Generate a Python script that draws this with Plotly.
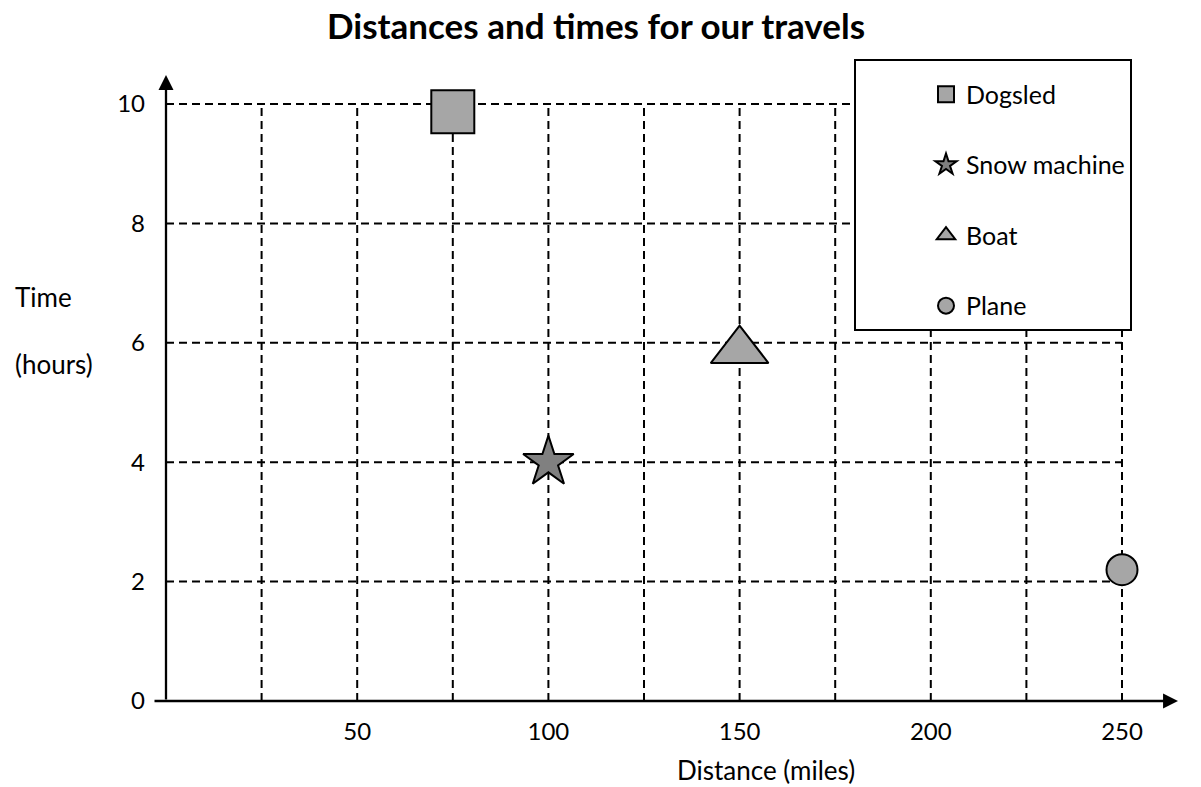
import plotly.graph_objects as go

# ---- data ----
vehicles = ["Dogsled", "Snow machine", "Boat", "Plane"]
distance_miles = [75, 100, 150, 250]
time_hours = [9.87, 4.0, 5.87, 2.2]
symbols = ["square", "star", "triangle-up", "circle"]
fills = ["#a6a6a6", "#808080", "#a6a6a6", "#a6a6a6"]
sizes = [43, 38, 50, 31]

x_ticks = [50, 100, 150, 200, 250]
y_ticks = [0, 2, 4, 6, 8, 10]
x_grid = [25, 50, 75, 100, 125, 150, 175, 200, 225, 250]
y_grid = [2, 4, 6, 8, 10]

FONT = "Lato"
W, H = 1201, 787
ML, MR, MT, MB = 166, 23, 75, 86
PW, PH = W - ML - MR, H - MT - MB


def px2paper_x(px):
    return (px - ML) / PW


def px2paper_y(py):
    return (H - MB - py) / PH


fig = go.Figure()

for name, x, y, sym, col, sz in zip(vehicles, distance_miles, time_hours, symbols, fills, sizes):
    fig.add_trace(go.Scatter(
        x=[x], y=[y], mode="markers", name=name, legendgroup=name,
        marker=dict(symbol=sym, size=sz, color=col, line=dict(color="black", width=2)),
        cliponaxis=False,
    ))

grid_line = dict(color="black", width=2, dash="8px,5px")
for gx in x_grid:
    fig.add_shape(type="line", xref="x", yref="y", x0=gx, x1=gx,
                  y0=0, y1=max(y_grid), line=grid_line, layer="below")
for gy in y_grid:
    fig.add_shape(type="line", xref="x", yref="y", x0=0, x1=max(x_grid),
                  y0=gy, y1=gy, line=grid_line, layer="below")

# axis arrows
fig.add_annotation(xref="paper", yref="paper", x=1, y=0, ax=-(PW + 13), ay=0,
                   text="", showarrow=True, arrowhead=2, arrowsize=1.3,
                   arrowwidth=2.3, arrowcolor="black")
fig.add_annotation(xref="paper", yref="paper", x=0, y=1, ax=0, ay=PH,
                   text="", showarrow=True, arrowhead=2, arrowsize=1.3,
                   arrowwidth=2.3, arrowcolor="black")

# axis titles
fig.add_annotation(xref="paper", yref="paper", x=px2paper_x(13), y=px2paper_y(297),
                   xanchor="left", yanchor="middle", text="Time", showarrow=False,
                   font=dict(family=FONT, size=26, color="black"))
fig.add_annotation(xref="paper", yref="paper", x=px2paper_x(13), y=px2paper_y(364),
                   xanchor="left", yanchor="middle", text="(hours)", showarrow=False,
                   font=dict(family=FONT, size=26, color="black"))
fig.add_annotation(xref="paper", yref="paper", x=px2paper_x(766), y=px2paper_y(770),
                   xanchor="center", yanchor="middle", text="Distance (miles)", showarrow=False,
                   font=dict(family=FONT, size=26, color="black"))

fig.update_layout(
    width=W, height=H,
    margin=dict(l=ML, r=MR, t=MT, b=MB),
    paper_bgcolor="white", plot_bgcolor="white",
    title=dict(text="Distances and times for our travels", x=596 / W, xanchor="center",
               y=1 - 27 / H, yanchor="middle",
               font=dict(family=FONT, size=35, color="black", weight="bold")),
    font=dict(family=FONT, size=24, color="black"),
    xaxis=dict(range=[0, (1178 - ML) / ((1122 - ML) / 250)], tickvals=x_ticks,
               showgrid=False, zeroline=False, showline=False, ticks="",
               ticklabelstandoff=14, tickfont=dict(size=24)),
    yaxis=dict(range=[0, (H - MB - MT) / ((H - MB - 104) / 10)], tickvals=y_ticks,
               showgrid=False, zeroline=False, showline=False, ticks="",
               ticklabelstandoff=20, tickfont=dict(size=24)),
    legend=dict(x=px2paper_x(854), y=px2paper_y(59), xanchor="left", yanchor="top",
                bgcolor="white", bordercolor="black", borderwidth=2,
                font=dict(family=FONT, size=25, color="black"),
                title=dict(text=" ", font=dict(size=8)),
                tracegroupgap=35, indentation=70, itemsizing="trace"),
    showlegend=True,
)

fig.write_html("out.html", config={"displayModeBar": False},
               post_script="document.body.style.margin='0';")
